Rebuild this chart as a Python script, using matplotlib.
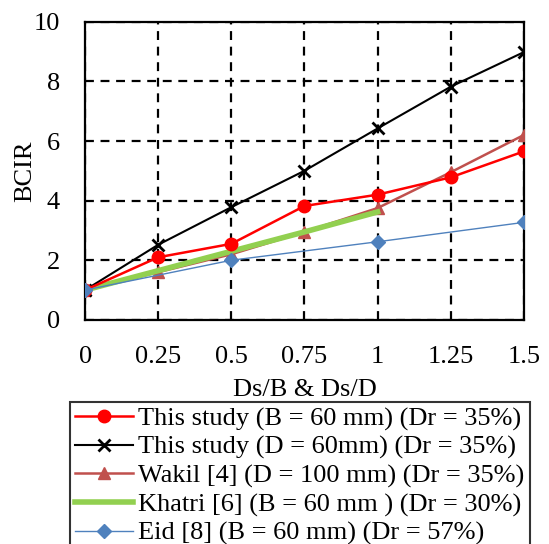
import matplotlib.pyplot as plt

plt.rcParams['font.family'] = ['Liberation Serif', 'DejaVu Serif']

x = [0, 0.25, 0.5, 0.75, 1.0, 1.25, 1.5]
study_b = [1.0, 2.1, 2.55, 3.82, 4.2, 4.78, 5.65]
study_d = [1.0, 2.52, 3.78, 5.0, 6.42, 7.82, 8.98]
wakil = [1.0, 1.6, 2.2, 2.95, 3.75, 4.95, 6.2]
x_khatri = [0, 0.25, 0.5, 0.75, 1.0]
khatri = [1.0, 1.65, 2.3, 2.95, 3.62]
x_eid = [0, 0.5, 1.0, 1.5]
eid = [1.0, 2.0, 2.62, 3.27]

labels = ['This study (B = 60 mm) (Dr = 35%)',
          'This study (D = 60mm) (Dr = 35%)',
          'Wakil [4] (D = 100 mm) (Dr = 35%)',
          'Khatri [6] (B = 60 mm ) (Dr = 30%)',
          'Eid [8] (B = 60 mm) (Dr = 57%)']

fig = plt.figure(figsize=(5.49, 5.44), dpi=100)
ax = fig.add_axes([0.155, 0.412, 0.799, 0.548])

ax.plot(x, study_b, color='#FF0000', marker='o', markersize=9, lw=1.8, label=labels[0], zorder=5)
ax.plot(x, study_d, color='black', marker='x', markersize=8, mew=2, lw=1.5, label=labels[1], zorder=4)
ax.plot(x, wakil, color='#C0504D', marker='^', markersize=8, lw=1.8, label=labels[2], zorder=3)
ax.plot(x_khatri, khatri, color='#92D050', lw=4, label=labels[3], zorder=3.5)
ax.plot(x_eid, eid, color='#4F81BD', marker='D', markersize=7, lw=1.0, label=labels[4], zorder=6)

ax.set_xlim(0, 1.5)
ax.set_ylim(0, 10)
ax.set_xticks(x)
ax.set_xticklabels(['0', '0.25', '0.5', '0.75', '1', '1.25', '1.5'])
ax.set_yticks([0, 2, 4, 6, 8, 10])
ax.tick_params(labelsize=19, length=0)
ax.tick_params(axis='x', pad=19)
ax.tick_params(axis='y', pad=18)
ax.grid(True, color='black', ls=(0, (4, 3)), lw=1.6)
for s in ax.spines.values():
    s.set_linewidth(1.6)
ax.set_xlabel('Ds/B & Ds/D', fontsize=19, labelpad=8)
ax.set_ylabel('BCIR', fontsize=19)
ax.yaxis.set_label_coords(-0.112, 0.5)

leg = fig.legend(loc='upper center', bbox_to_anchor=(0.546, 0.286), fontsize=19,
                 frameon=True, fancybox=False, edgecolor='black', handlelength=2.2,
                 labelspacing=0.18, borderpad=0.2, handletextpad=0.2)
leg.get_frame().set_linewidth(1.5)

fig.savefig('out.png', dpi=100)
